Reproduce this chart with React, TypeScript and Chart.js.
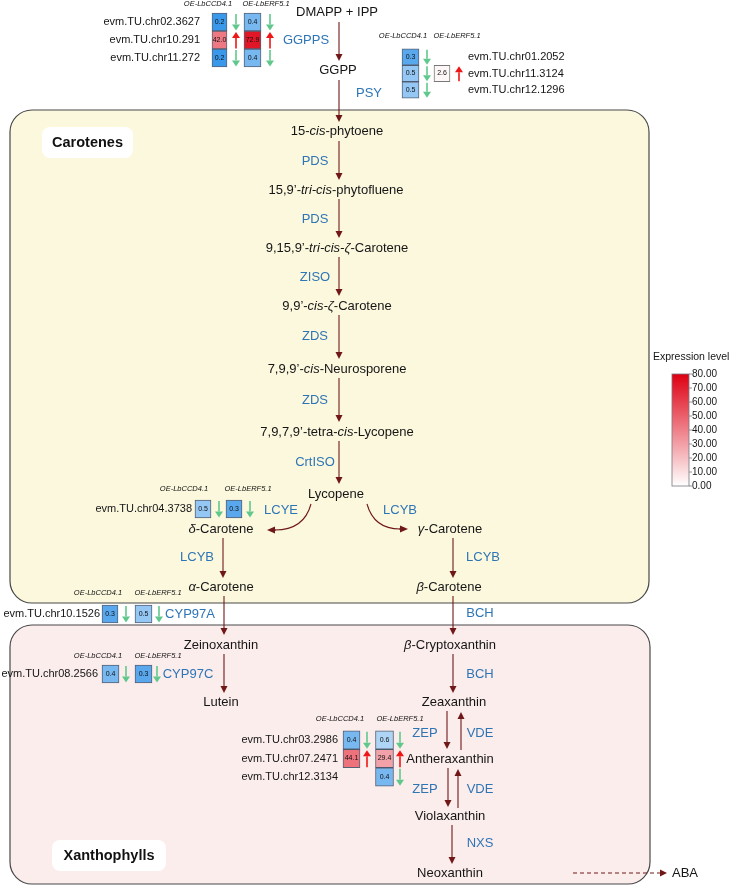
import { useEffect, useRef } from "react";
import { Chart, registerables } from "chart.js";
Chart.register(...registerables);

const FONT = "'Liberation Sans', Arial, Helvetica, sans-serif";

// ---------------- DATA ----------------
const compounds = [
  "DMAPP + IPP",
  "GGPP",
  "15-*cis*-phytoene",
  "15,9’-*tri-cis*-phytofluene",
  "9,15,9’-*tri-cis-ζ*-Carotene",
  "9,9’-*cis-ζ*-Carotene",
  "7,9,9’-*cis*-Neurosporene",
  "7,9,7,9’-tetra-*cis*-Lycopene",
  "Lycopene",
  "*δ*-Carotene",
  "*γ*-Carotene",
  "*α*-Carotene",
  "*β*-Carotene",
  "Zeinoxanthin",
  "*β*-Cryptoxanthin",
  "Lutein",
  "Zeaxanthin",
  "Antheraxanthin",
  "Violaxanthin",
  "Neoxanthin",
  "ABA",
];
const enzymes = [
  "GGPPS", "PSY", "PDS", "PDS", "ZISO", "ZDS", "ZDS", "CrtISO", "LCYE", "LCYB", "LCYB",
  "LCYB", "CYP97A", "BCH", "CYP97C", "BCH", "ZEP", "VDE", "ZEP", "VDE", "NXS",
];
const sampleHeaders = ["OE-LbCCD4.1", "OE-LbERF5.1"];
const boxTitles = ["Carotenes", "Xanthophylls"];

const ggppsGenes = ["evm.TU.chr02.3627", "evm.TU.chr10.291", "evm.TU.chr11.272"];
const ggppsCCD4 = [0.2, 42.0, 0.2];
const ggppsERF5 = [0.4, 72.9, 0.4];

const psyGenes = ["evm.TU.chr01.2052", "evm.TU.chr11.3124", "evm.TU.chr12.1296"];
const psyCCD4 = [0.3, 0.5, 0.5];
const psyERF5 = [null, 2.6, null];

const lcyeGenes = ["evm.TU.chr04.3738"];
const lcyeCCD4 = [0.5];
const lcyeERF5 = [0.3];

const cyp97aGenes = ["evm.TU.chr10.1526"];
const cyp97aCCD4 = [0.3];
const cyp97aERF5 = [0.5];

const cyp97cGenes = ["evm.TU.chr08.2566"];
const cyp97cCCD4 = [0.4];
const cyp97cERF5 = [0.3];

const zepGenes = ["evm.TU.chr03.2986", "evm.TU.chr07.2471", "evm.TU.chr12.3134"];
const zepCCD4 = [0.4, 44.1, null];
const zepERF5 = [0.6, 29.4, 0.4];

const legendTitle = "Expression level";
const legendTicks = [0, 10, 20, 30, 40, 50, 60, 70, 80];
const legendMax = 80;

// ---------------- LAYOUT (positions in page units) ----------------
const compoundPos: [number, number][] = [
  [337, 12], [338, 70], [337, 131], [336, 190], [337, 248], [337, 306], [337, 369],
  [337, 432], [336, 494], [221, 529], [450, 529], [221, 587], [449, 587], [221, 645],
  [450, 645], [221, 702], [454, 702], [450, 759], [450, 816], [450, 873], [685, 873],
];
const enzymePos: [number, number][] = [
  [306, 40], [369, 93], [315, 161], [315, 219], [315, 277], [315, 336], [315, 400],
  [315, 462], [281, 510], [400, 510], [197, 557], [483, 557], [190, 614], [480, 613],
  [188, 674], [480, 674], [425, 733], [480, 733], [425, 789], [480, 789], [480, 843],
];
const pathArrows: [number, number, number, number][] = [
  [339, 22, 339, 61], [339, 80, 339, 122], [339, 141, 339, 180], [339, 199, 339, 238],
  [339, 257, 339, 296], [339, 315, 339, 359], [339, 378, 339, 422], [339, 441, 339, 484],
  [223, 538, 223, 578], [453, 538, 453, 578], [224, 596, 224, 635], [453, 596, 453, 635],
  [224, 654, 224, 693], [453, 654, 453, 693], [447, 711, 447, 749], [461, 750, 461, 712],
  [448, 768, 448, 807], [458, 808, 458, 769], [452, 825, 452, 864],
];

type Col = { cx: number; w: number; ax: number; hx: number };
type Group = {
  genes: string[]; ccd4: (number | null)[]; erf5: (number | null)[];
  rowY: number[]; rowH: number; cols: Col[]; headerY: number; labelX: number; labelAlign: "left" | "right";
};
const groups: Group[] = [
  { genes: ggppsGenes, ccd4: ggppsCCD4, erf5: ggppsERF5, rowY: [22, 40, 58], rowH: 18,
    cols: [{ cx: 219.5, w: 15, ax: 236, hx: 208 }, { cx: 252.5, w: 17, ax: 270, hx: 266 }],
    headerY: 4, labelX: 200, labelAlign: "right" },
  { genes: psyGenes, ccd4: psyCCD4, erf5: psyERF5, rowY: [57, 73.5, 90], rowH: 16.5,
    cols: [{ cx: 410.5, w: 17, ax: 427, hx: 403 }, { cx: 442, w: 16, ax: 459, hx: 457 }],
    headerY: 36, labelX: 468, labelAlign: "left" },
  { genes: lcyeGenes, ccd4: lcyeCCD4, erf5: lcyeERF5, rowY: [509], rowH: 18,
    cols: [{ cx: 203, w: 16, ax: 219, hx: 184 }, { cx: 234, w: 16, ax: 250, hx: 248 }],
    headerY: 489, labelX: 192, labelAlign: "right" },
  { genes: cyp97aGenes, ccd4: cyp97aCCD4, erf5: cyp97aERF5, rowY: [614], rowH: 18,
    cols: [{ cx: 110, w: 16, ax: 126, hx: 98 }, { cx: 143.5, w: 17, ax: 159, hx: 158 }],
    headerY: 593, labelX: 100, labelAlign: "right" },
  { genes: cyp97cGenes, ccd4: cyp97cCCD4, erf5: cyp97cERF5, rowY: [674], rowH: 18,
    cols: [{ cx: 110.5, w: 17, ax: 126, hx: 98 }, { cx: 143.5, w: 17, ax: 157, hx: 158 }],
    headerY: 656, labelX: 98, labelAlign: "right" },
  { genes: zepGenes, ccd4: zepCCD4, erf5: zepERF5, rowY: [740, 758.5, 777], rowH: 18.5,
    cols: [{ cx: 351.5, w: 17, ax: 367, hx: 340 }, { cx: 384.5, w: 18, ax: 400, hx: 400 }],
    headerY: 719, labelX: 338, labelAlign: "right" },
];

// ---------------- STYLE ----------------
const PATH_COLOR = "rgb(112,24,24)";
const ENZ_COLOR = "rgb(46,117,182)";
const TEXT_COLOR = "#151515";
const UP_COLOR = "rgb(238,22,22)";
const DOWN_COLOR = "rgb(96,200,140)";
const RED_END = [222, 0, 18];
const BLUE_END = [58, 152, 234];

function mix(a: number[], b: number[], t: number) {
  const c = a.map((v, i) => Math.round(v + (b[i] - v) * t));
  return `rgb(${c[0]},${c[1]},${c[2]})`;
}
function cellColor(v: number) {
  if (v < 1) {
    const t = Math.pow(Math.min(1, (1 - v) / 0.8), 1.3);
    return mix([255, 255, 255], BLUE_END, t);
  }
  return mix([255, 255, 255], RED_END, Math.min(1, v / legendMax));
}

function richParts(s: string) {
  return s.split("*").map((t, i) => ({ t, it: i % 2 === 1 })).filter((p) => p.t.length > 0);
}
function drawRich(ctx: CanvasRenderingContext2D, s: string, x: number, y: number, size: number,
  align: "left" | "center" | "right", color: string, weight = "normal", allItalic = false) {
  const parts = richParts(s);
  const f = (it: boolean) => `${it || allItalic ? "italic " : ""}${weight} ${size}px ${FONT}`;
  let total = 0;
  const widths: number[] = [];
  for (const p of parts) { ctx.font = f(p.it); const w = ctx.measureText(p.t).width; widths.push(w); total += w; }
  let sx = align === "center" ? x - total / 2 : align === "right" ? x - total : x;
  ctx.textAlign = "left";
  ctx.textBaseline = "middle";
  ctx.fillStyle = color;
  parts.forEach((p, i) => { ctx.font = f(p.it); ctx.fillText(p.t, sx, y); sx += widths[i]; });
}
function drawArrow(ctx: CanvasRenderingContext2D, x1: number, y1: number, x2: number, y2: number,
  color: string, lw: number, hl: number, hw: number, dash?: number[]) {
  const a = Math.atan2(y2 - y1, x2 - x1);
  const bx = x2 - hl * Math.cos(a), by = y2 - hl * Math.sin(a);
  ctx.save();
  ctx.strokeStyle = color; ctx.fillStyle = color; ctx.lineWidth = lw;
  if (dash) ctx.setLineDash(dash);
  ctx.beginPath(); ctx.moveTo(x1, y1); ctx.lineTo(bx, by); ctx.stroke();
  ctx.setLineDash([]);
  ctx.beginPath();
  ctx.moveTo(x2, y2);
  ctx.lineTo(bx - (hw / 2) * Math.sin(a), by + (hw / 2) * Math.cos(a));
  ctx.lineTo(bx + (hw / 2) * Math.sin(a), by - (hw / 2) * Math.cos(a));
  ctx.closePath(); ctx.fill();
  ctx.restore();
}
function roundRectPath(ctx: CanvasRenderingContext2D, x: number, y: number, w: number, h: number, r: number) {
  ctx.beginPath();
  ctx.moveTo(x + r, y);
  ctx.lineTo(x + w - r, y); ctx.arcTo(x + w, y, x + w, y + r, r);
  ctx.lineTo(x + w, y + h - r); ctx.arcTo(x + w, y + h, x + w - r, y + h, r);
  ctx.lineTo(x + r, y + h); ctx.arcTo(x, y + h, x, y + h - r, r);
  ctx.lineTo(x, y + r); ctx.arcTo(x, y, x + r, y, r);
  ctx.closePath();
}

const diagramPlugin = {
  id: "pathwayDiagram",
  beforeDatasetsDraw(chart: any) {
    const { ctx } = chart;
    const X = (v: number) => chart.scales.x.getPixelForValue(v);
    const Y = (v: number) => chart.scales.y.getPixelForValue(v);
    ctx.save();
    const boxes = [
      { x0: 10, y0: 110, x1: 649, y1: 603, fill: "rgb(252,248,222)", lx0: 42, ly0: 127, lx1: 133, ly1: 158 },
      { x0: 10, y0: 625, x1: 650, y1: 884, fill: "rgb(252,237,237)", lx0: 52, ly0: 840, lx1: 166, ly1: 871 },
    ];
    boxes.forEach((b, i) => {
      roundRectPath(ctx, X(b.x0), Y(b.y0), X(b.x1) - X(b.x0), Y(b.y1) - Y(b.y0), 22);
      ctx.fillStyle = b.fill; ctx.fill();
      ctx.strokeStyle = "rgb(72,72,72)"; ctx.lineWidth = 1.2; ctx.stroke();
      roundRectPath(ctx, X(b.lx0), Y(b.ly0), X(b.lx1) - X(b.lx0), Y(b.ly1) - Y(b.ly0), 8);
      ctx.fillStyle = "#ffffff"; ctx.fill();
      drawRich(ctx, boxTitles[i], X((b.lx0 + b.lx1) / 2), Y((b.ly0 + b.ly1) / 2), 14.5, "center", "#111", "bold");
    });
    ctx.restore();
  },
  afterDatasetsDraw(chart: any) {
    const { ctx } = chart;
    const X = (v: number) => chart.scales.x.getPixelForValue(v);
    const Y = (v: number) => chart.scales.y.getPixelForValue(v);
    ctx.save();
    compounds.forEach((c, i) => {
      const [x, y] = compoundPos[i];
      if (c === "ABA") drawRich(ctx, c, X(672), Y(y), 13, "left", TEXT_COLOR);
      else drawRich(ctx, c, X(x), Y(y), 13, "center", TEXT_COLOR);
    });
    enzymes.forEach((e, i) => {
      const [x, y] = enzymePos[i];
      drawRich(ctx, e, X(x), Y(y), 13, "center", ENZ_COLOR);
    });
    pathArrows.forEach(([x1, y1, x2, y2]) => drawArrow(ctx, X(x1), Y(y1), X(x2), Y(y2), PATH_COLOR, 1.1, 7, 7));
    ctx.strokeStyle = PATH_COLOR; ctx.lineWidth = 1.1;
    ctx.beginPath(); ctx.moveTo(X(311), Y(504)); ctx.quadraticCurveTo(X(304), Y(530), X(275), Y(530)); ctx.stroke();
    drawArrow(ctx, X(276), Y(530), X(267), Y(530), PATH_COLOR, 1.1, 8, 7);
    ctx.beginPath(); ctx.moveTo(X(367), Y(504)); ctx.quadraticCurveTo(X(374), Y(529), X(400), Y(529)); ctx.stroke();
    drawArrow(ctx, X(399), Y(529), X(408), Y(529), PATH_COLOR, 1.1, 8, 7);
    drawArrow(ctx, X(573), Y(873), X(667), Y(873), PATH_COLOR, 1, 7, 7, [4, 3]);

    groups.forEach((g) => {
      g.cols.forEach((c, ci) => drawRich(ctx, sampleHeaders[ci], X(c.hx), Y(g.headerY), 7.5, "center", "#111", "normal", true));
      g.genes.forEach((gn, ri) => drawRich(ctx, gn, X(g.labelX), Y(g.rowY[ri]), 11, g.labelAlign, TEXT_COLOR));
      g.cols.forEach((c, ci) => {
        const vals = ci === 0 ? g.ccd4 : g.erf5;
        vals.forEach((v, ri) => {
          if (v === null || v === undefined) return;
          const cy = g.rowY[ri];
          drawRich(ctx, v.toFixed(1), X(c.cx), Y(cy), 7, "center", "#111");
          const top = cy - g.rowH / 2 + 1, bot = cy + g.rowH / 2 - 0.5;
          if (v < 1) drawArrow(ctx, X(c.ax), Y(top), X(c.ax), Y(bot), DOWN_COLOR, 1.6, 6, 8);
          else drawArrow(ctx, X(c.ax), Y(bot), X(c.ax), Y(top), UP_COLOR, 1.6, 6, 8);
        });
      });
    });

    drawRich(ctx, legendTitle, X(653), Y(357), 10.5, "left", TEXT_COLOR);
    const bx0 = X(672), bx1 = X(689), byTop = Y(374), byBot = Y(486);
    const grad = ctx.createLinearGradient(0, byTop, 0, byBot);
    grad.addColorStop(0, mix([255, 255, 255], RED_END, 1));
    grad.addColorStop(1, "#ffffff");
    ctx.fillStyle = grad;
    ctx.fillRect(bx0, byTop, bx1 - bx0, byBot - byTop);
    ctx.strokeStyle = "rgb(120,120,130)"; ctx.lineWidth = 0.8;
    ctx.strokeRect(bx0, byTop, bx1 - bx0, byBot - byTop);
    legendTicks.forEach((t) => {
      const ty = Y(486 - (t / legendMax) * (486 - 374));
      ctx.beginPath(); ctx.moveTo(bx1, ty); ctx.lineTo(bx1 + 3, ty); ctx.stroke();
      drawRich(ctx, t.toFixed(2), bx1 + 3, ty, 10, "left", TEXT_COLOR);
    });
    ctx.restore();
  },
};

function buildDatasets() {
  const ds: any[] = [];
  groups.forEach((g) => {
    g.cols.forEach((c, ci) => {
      const vals = ci === 0 ? g.ccd4 : g.erf5;
      const data: any[] = [], bg: string[] = [], bc: string[] = [];
      vals.forEach((v, ri) => {
        if (v === null || v === undefined) return;
        const cy = g.rowY[ri];
        data.push({ x: c.cx, y: [cy - g.rowH / 2, cy + g.rowH / 2] });
        bg.push(cellColor(v));
        bc.push(v >= 1 && v < 5 ? "rgb(120,120,120)" : "rgba(45,60,85,0.8)");
      });
      ds.push({
        type: "bar", data, backgroundColor: bg, borderColor: bc, borderWidth: 1,
        borderSkipped: false, barThickness: c.w, grouped: false,
      });
    });
  });
  return ds;
}

export default function App() {
  const ref = useRef<HTMLCanvasElement>(null);
  useEffect(() => {
    if (!ref.current) return;
    const chart = new Chart(ref.current, {
      type: "scatter",
      data: { datasets: buildDatasets() },
      options: {
        animation: false,
        responsive: false,
        devicePixelRatio: 1,
        events: [],
        layout: { padding: 0 },
        plugins: { legend: { display: false }, tooltip: { enabled: false }, title: { display: false } },
        scales: {
          x: { type: "linear", min: 0, max: 733, display: false, offset: false, grid: { display: false } },
          y: { type: "linear", min: 0, max: 886, reverse: true, display: false, grid: { display: false } },
        },
      } as any,
      plugins: [diagramPlugin],
    } as any);
    return () => chart.destroy();
  }, []);
  return (
    <div style={{ position: "absolute", left: 0, top: 0, width: 733, height: 886, background: "#fff" }}>
      <canvas ref={ref} width={733} height={886} style={{ display: "block", width: 733, height: 886 }} />
    </div>
  );
}
